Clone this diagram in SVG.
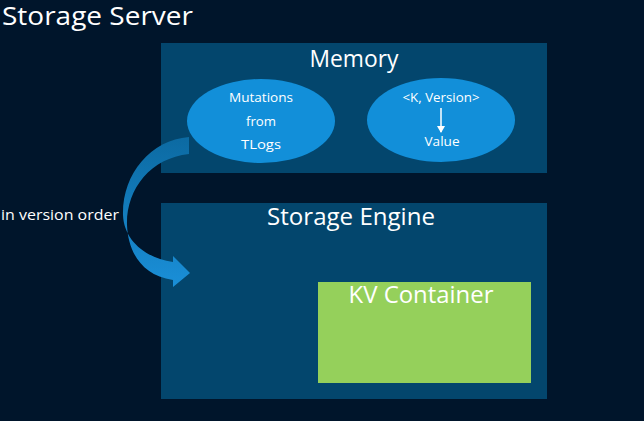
<svg xmlns="http://www.w3.org/2000/svg" width="644" height="421" viewBox="0 0 644 421">
<defs>
<style>
text{font-family:"Open Sans","Liberation Sans",sans-serif;fill:#ffffff}
.box{fill:#03466D}
.ell{fill:#128FD9}
.big{font-size:23px;text-anchor:middle}
.sm{font-size:13px;text-anchor:middle}
</style>
<linearGradient id="rib" x1="0" y1="0" x2="0" y2="1">
<stop offset="0" stop-color="#0C6AA2"/>
<stop offset="1" stop-color="#1A8FD8"/>
</linearGradient>
<marker id="ah" markerWidth="8" markerHeight="8" refX="6" refY="4" orient="auto" markerUnits="userSpaceOnUse">
<path d="M0,0 L7,4 L0,8 Z" fill="#ffffff"/>
</marker>
</defs>
<rect width="644" height="421" fill="#00152B"/>
<text x="2" y="25" style="font-size:25px" textLength="191" lengthAdjust="spacingAndGlyphs">Storage Server</text>
<g id="memory">
<rect class="box" x="161" y="43" width="386" height="130"/>
<text class="big" x="354" y="67" textLength="89" lengthAdjust="spacingAndGlyphs">Memory</text>
</g>
<g id="mutations">
<ellipse class="ell" cx="261" cy="121" rx="74" ry="42"/>
<text class="sm" x="261" y="102" textLength="64" lengthAdjust="spacingAndGlyphs">Mutations</text>
<text class="sm" x="261" y="126" textLength="30" lengthAdjust="spacingAndGlyphs">from</text>
<text class="sm" x="261" y="149" textLength="40" lengthAdjust="spacingAndGlyphs">TLogs</text>
</g>
<g id="kvversion">
<ellipse class="ell" cx="441" cy="120" rx="74" ry="42"/>
<text class="sm" x="441" y="102" textLength="77" lengthAdjust="spacingAndGlyphs">&lt;K, Version&gt;</text>
<line x1="441" y1="108" x2="441" y2="132" stroke="#ffffff" stroke-width="1.5" marker-end="url(#ah)"/>
<text class="sm" x="442" y="146" textLength="35" lengthAdjust="spacingAndGlyphs">Value</text>
</g>
<g id="engine">
<rect class="box" x="161" y="203" width="386" height="196"/>
<text class="big" x="351" y="225" textLength="168" lengthAdjust="spacingAndGlyphs">Storage Engine</text>
</g>
<g id="kvcontainer">
<rect x="318" y="282" width="213" height="101" fill="#95D05B"/>
<text class="big" x="421" y="303" textLength="145" lengthAdjust="spacingAndGlyphs">KV Container</text>
</g>
<g id="connectors">
<path d="M189,137 C150,140 122,175 123,215 C124,240 145,258 173,262 L173,256 L190,273 L173,287 L173,280 C140,275 128,250 127,225 C126,190 150,158 189,154 Z" fill="url(#rib)"/>
<text x="1" y="220" style="font-size:14px" textLength="118" lengthAdjust="spacingAndGlyphs">in version order</text>
</g>
</svg>
